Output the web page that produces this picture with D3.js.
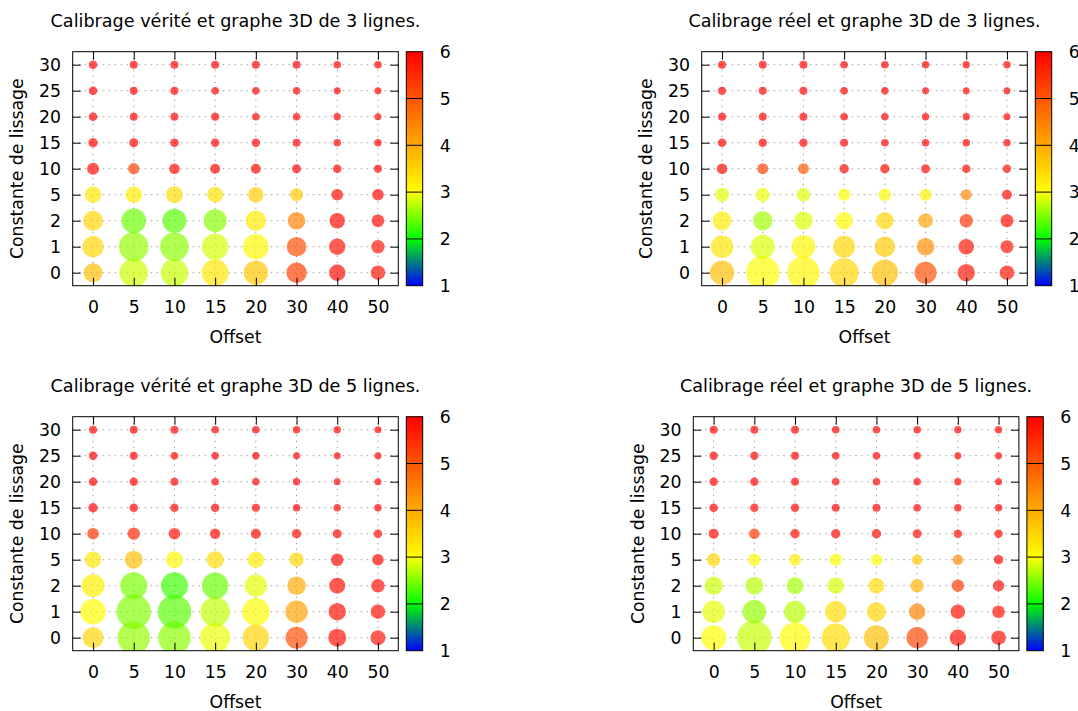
<!DOCTYPE html>
<html><head><meta charset="utf-8">
<script src="https://cdn.jsdelivr.net/npm/d3@7"></script>
<style>
body{margin:0;background:#fff}
svg{display:block}
text{font-family:"DejaVu Sans",sans-serif;fill:#000}
</style>
</head><body>
<svg id="c" width="1078" height="711"></svg>
<script>
// ---- categories / tick labels ----
const offsets = ["0","5","10","15","20","30","40","50"];
const smoothing = ["0","1","2","5","10","15","20","25","30"];
const colorTicks = [1,2,3,4,5,6];
const titles = [
  "Calibrage vérité et graphe 3D de 3 lignes.",
  "Calibrage réel et graphe 3D de 3 lignes.",
  "Calibrage vérité et graphe 3D de 5 lignes.",
  "Calibrage réel et graphe 3D de 5 lignes."
];
const xLabel = "Offset";
const yLabel = "Constante de lissage";

// ---- values: rows follow `smoothing` (0,1,2,5,10,15,20,25,30), columns follow `offsets` ----
// colour value (palette 1..6)
const p1Error = [
  [3.76,2.80,2.78,3.30,3.68,5.30,5.90,5.80],
  [3.50,2.58,2.55,2.83,3.10,5.10,5.80,5.80],
  [3.50,2.41,2.35,2.52,3.25,4.50,5.90,5.90],
  [3.26,3.20,3.42,3.35,3.60,3.65,5.90,5.90],
  [5.90,5.28,5.90,5.90,5.90,6.00,6.00,6.00],
  [6,6,6,6,6,6,6,6],
  [6,6,6,6,6,6,6,6],
  [6,6,6,6,6,6,6,6],
  [6,6,6,6,6,6,6,6]
];
const p2Error = [
  [3.76,3.05,3.10,3.50,3.76,5.10,5.80,5.80],
  [3.30,2.87,3.10,3.50,3.65,4.35,5.80,5.80],
  [3.20,2.63,2.87,3.05,3.50,4.10,5.45,5.90],
  [2.89,2.93,2.87,3.00,3.10,3.20,4.43,5.90],
  [5.90,5.30,4.95,5.90,5.90,5.90,5.90,5.90],
  [6,6,6,6,6,6,6,6],
  [6,6,6,6,6,6,6,6],
  [6,6,6,6,6,6,6,6],
  [6,6,6,6,6,6,6,6]
];
const p3Error = [
  [3.50,2.58,2.55,2.93,3.50,5.10,5.85,5.80],
  [3.05,2.50,2.35,2.75,3.05,4.10,5.85,5.85],
  [3.20,2.47,2.24,2.41,2.90,4.00,5.85,5.85],
  [3.30,3.76,3.10,3.40,3.25,3.50,5.90,5.90],
  [5.45,5.60,5.85,5.90,5.90,5.90,5.90,5.90],
  [6,6,6,6,6,6,6,6],
  [6,6,6,6,6,6,6,6],
  [6,6,6,6,6,6,6,6],
  [6,6,6,6,6,6,6,6]
];
const p4Error = [
  [3.00,2.78,3.05,3.40,3.76,5.20,5.85,5.85],
  [2.90,2.58,2.72,3.40,3.50,4.50,5.85,5.85],
  [2.78,2.72,2.64,2.83,3.40,3.90,5.35,5.85],
  [3.50,3.10,3.20,3.00,3.05,3.68,4.43,5.90],
  [5.90,5.35,5.90,5.90,5.90,5.90,5.90,5.90],
  [6,6,6,6,6,6,6,6],
  [6,6,6,6,6,6,6,6],
  [6,6,6,6,6,6,6,6],
  [6,6,6,6,6,6,6,6]
];
// bubble size value
const p1Spread = [
  [9.5,14.2,13.8,13.5,12.2,10.2,8.2,7.2],
  [10.7,14.7,14.3,13.2,12.8,9.8,8.2,6.7],
  [10.0,12.3,12.0,11.5,10.3,8.8,7.7,6.3],
  [8.3,8.3,8.5,8.0,7.7,6.5,5.8,5.8],
  [6.0,5.7,5.3,5.0,5.0,4.5,4.3,4.0],
  [4.7,4.5,4.3,4.2,4.2,4.0,3.8,3.7],
  [4.3,4.0,4.0,4.0,3.8,3.8,3.7,3.5],
  [4.3,4.0,4.0,3.8,3.8,3.7,3.5,3.5],
  [4.3,4.0,4.0,4.0,4.0,4.0,3.8,3.8]
];
const p2Spread = [
  [12.2,16.7,16.2,14.5,13.2,11.0,8.7,7.3],
  [11.3,12.0,11.8,11.0,10.3,8.8,7.8,6.5],
  [9.5,9.7,9.3,8.8,8.7,7.3,6.7,6.5],
  [7.0,7.0,6.7,6.2,6.3,6.0,5.5,5.0],
  [5.3,5.5,5.5,4.7,4.7,4.5,4.3,4.2],
  [4.3,4.3,4.2,4.0,3.8,3.8,3.8,3.7],
  [4.0,4.0,4.0,3.8,3.7,3.7,3.7,3.5],
  [4.0,4.0,4.0,3.8,3.7,3.5,3.5,3.5],
  [4.0,4.0,4.0,3.8,3.8,3.8,3.7,3.7]
];
const p3Spread = [
  [10.5,16.2,16.2,15.0,13.2,11.0,9.0,7.5],
  [12.8,17.2,16.7,14.7,13.8,11.2,8.7,7.2],
  [11.5,13.5,13.5,13.2,11.2,9.3,8.0,6.8],
  [8.3,9.0,8.5,8.7,8.2,7.2,6.3,5.8],
  [5.8,6.2,5.8,5.2,5.0,4.7,4.5,4.3],
  [4.7,4.3,4.2,4.2,4.0,3.8,3.7,3.7],
  [4.3,4.2,4.0,3.8,3.7,3.7,3.5,3.5],
  [4.2,4.0,3.8,3.7,3.7,3.5,3.5,3.5],
  [4.0,4.0,4.0,3.8,3.8,3.7,3.7,3.5]
];
const p4Spread = [
  [12.5,17.2,15.5,14.2,12.5,10.7,8.2,7.3],
  [11.3,11.8,11.0,10.7,9.5,8.2,7.2,6.3],
  [9.2,9.0,8.5,8.3,7.8,6.7,6.2,5.7],
  [6.7,6.3,6.0,6.2,5.8,5.3,5.2,4.8],
  [5.0,5.3,4.7,4.7,4.7,4.5,4.3,4.2],
  [4.3,4.2,4.2,4.0,4.0,3.8,3.8,3.7],
  [4.2,4.2,4.0,3.8,3.8,3.8,3.7,3.5],
  [4.2,4.2,4.0,3.8,3.8,3.7,3.5,3.5],
  [4.0,4.0,4.0,3.8,3.8,3.8,3.7,3.7]
];
const panelErrors = [p1Error, p2Error, p3Error, p4Error];
const panelSpreads = [p1Spread, p2Spread, p3Spread, p4Spread];

// palette stops
const paletteDomain = [1,2,3,6];
const paletteColors = ["#0000ff","#00ff00","#ffff00","#ff0000"];

// ---- layout ----
const PW = 325.6, PH = 234;
const origins = [[72.7,51.7],[701.7,51.7],[72.7,416.7],[693.3,416.7]];
const FS = 17.3;

const svg = d3.select("#c");
const defs = svg.append("defs");
const color = d3.scaleLinear().domain(paletteDomain).range(paletteColors).clamp(true);

const grad = defs.append("linearGradient").attr("id","pal")
  .attr("x1",0).attr("y1",1).attr("x2",0).attr("y2",0);
const cbScaleGrad = d3.scaleLinear().domain([1,6]).range([0,1]);
paletteDomain.forEach((v,i)=>{
  grad.append("stop").attr("offset", cbScaleGrad(v)).attr("stop-color", paletteColors[i]);
});

const rScale = d3.scaleLinear().domain([0,20]).range([0,20]);

origins.forEach((o,pi)=>{
  const g = svg.append("g").attr("transform",`translate(${o[0]},${o[1]})`);
  const x = d3.scalePoint().domain(offsets).range([0,PW]).padding(0.5);
  const y = d3.scalePoint().domain(smoothing).range([PH,0]).padding(0.5);

  defs.append("clipPath").attr("id","clip"+pi)
    .append("rect").attr("width",PW).attr("height",PH);

  // grid
  const grid = g.append("g").attr("stroke","#a0a0a0").attr("stroke-width",1)
    .attr("stroke-dasharray","1.5,4.5");
  grid.selectAll(".gx").data(offsets).join("line")
    .attr("x1",d=>x(d)).attr("x2",d=>x(d)).attr("y1",0).attr("y2",PH);
  grid.selectAll(".gy").data(smoothing).join("line")
    .attr("y1",d=>y(d)).attr("y2",d=>y(d)).attr("x1",0).attr("x2",PW);

  // bubbles
  const pts = [];
  smoothing.forEach((s,ri)=>offsets.forEach((of,ci)=>{
    pts.push({s, of, z: panelErrors[pi][ri][ci], r: panelSpreads[pi][ri][ci]});
  }));
  g.append("g").attr("clip-path",`url(#clip${pi})`)
    .selectAll("circle").data(pts).join("circle")
    .attr("cx",d=>x(d.of)).attr("cy",d=>y(d.s)).attr("r",d=>rScale(d.r))
    .attr("fill",d=>color(d.z)).attr("fill-opacity",0.68);

  // axes (ticks inward, mirrored)
  const TL = 8;
  const ax = g.append("g").attr("transform",`translate(0,${PH})`)
    .call(d3.axisBottom(x).tickSize(-TL).tickPadding(14.7));
  const ay = g.append("g").call(d3.axisLeft(y).tickSize(-TL).tickPadding(11.7));
  const at = g.append("g").call(d3.axisTop(x).tickSize(-TL).tickFormat(""));
  const ar = g.append("g").attr("transform",`translate(${PW},0)`)
    .call(d3.axisRight(y).tickSize(-TL).tickFormat(""));
  [ax,ay,at,ar].forEach(a=>{
    a.select(".domain").remove();
    a.selectAll("line").attr("stroke","#000");
    a.selectAll("text").attr("font-size",FS).attr("font-family","DejaVu Sans").attr("fill","#000");
  });

  // frame
  g.append("rect").attr("width",PW).attr("height",PH)
    .attr("fill","none").attr("stroke","#000").attr("stroke-width",1);

  // title & labels
  g.append("text").attr("x",PW/2).attr("y",-25.2).attr("text-anchor","middle")
    .attr("font-size",17.6).text(titles[pi]);
  g.append("text").attr("x",PW/2).attr("y",PH+57.5).attr("text-anchor","middle")
    .attr("font-size",FS).text(xLabel);
  g.append("text").attr("transform",`translate(-49.7,${PH/2}) rotate(-90)`)
    .attr("text-anchor","middle").attr("font-size",FS).text(yLabel);

  // colour box
  const CBW = 16.4;
  const cb = g.append("g").attr("transform",`translate(${PW+8},0)`);
  const cy = d3.scaleLinear().domain([1,6]).range([PH,0]);
  cb.append("rect").attr("width",CBW).attr("height",PH).attr("fill","url(#pal)");
  cb.selectAll(".cbt").data(colorTicks.slice(1,-1)).join("line")
    .attr("x1",0).attr("x2",CBW).attr("y1",d=>cy(d)).attr("y2",d=>cy(d))
    .attr("stroke","#000").attr("stroke-width",1);
  cb.append("rect").attr("width",CBW).attr("height",PH)
    .attr("fill","none").attr("stroke","#000").attr("stroke-width",1);
  cb.selectAll(".cbl").data(colorTicks).join("text")
    .attr("x",CBW+17).attr("y",d=>cy(d)).attr("dy","0.36em")
    .attr("font-size",FS).text(d=>d);
});
</script>
</body></html>
